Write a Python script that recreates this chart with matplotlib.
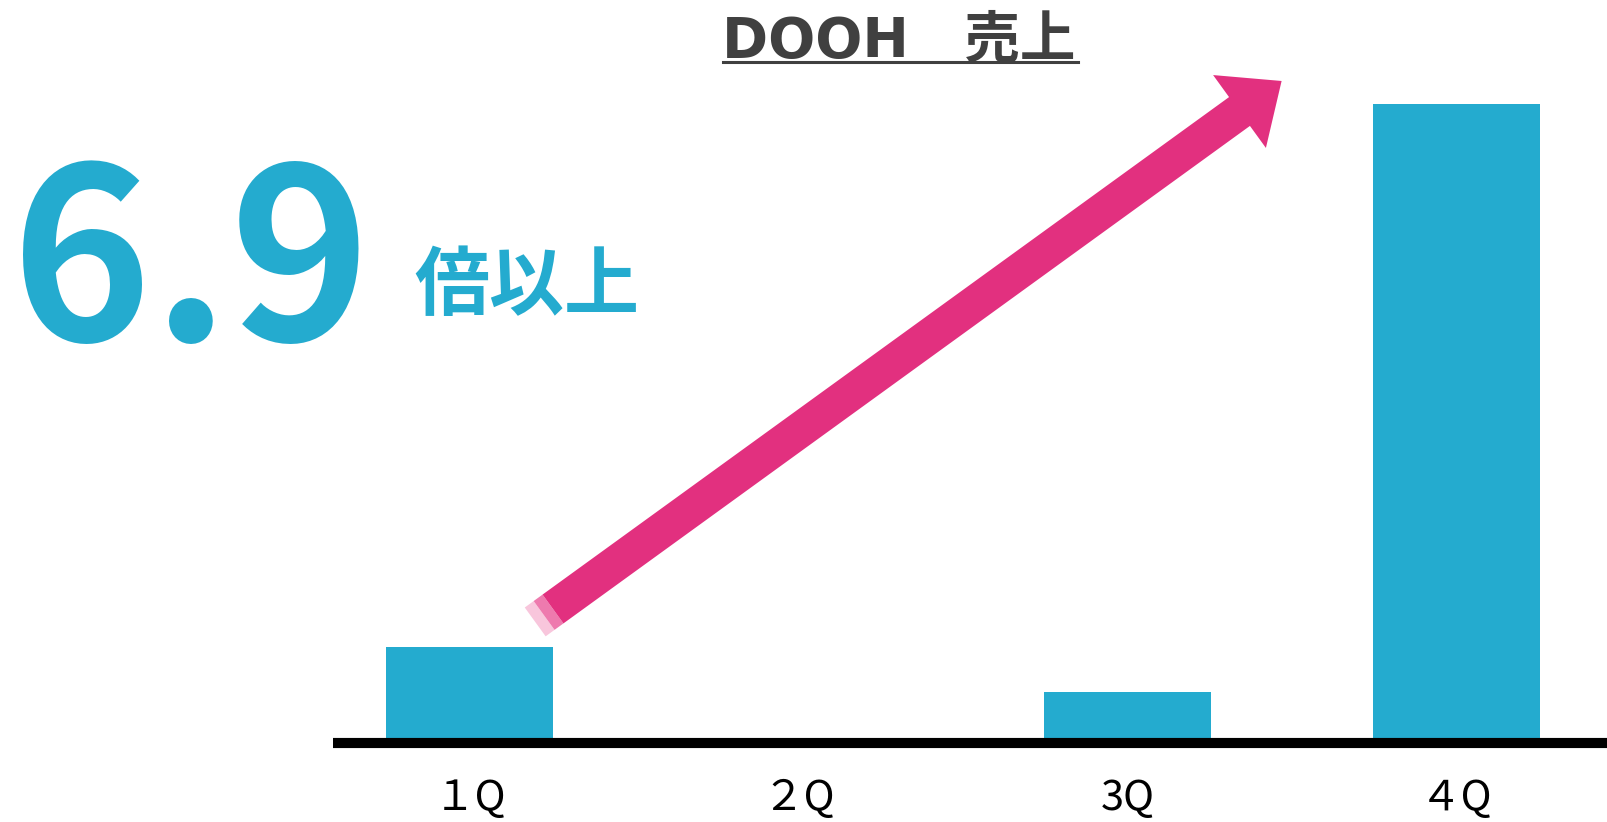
import matplotlib
matplotlib.use("Agg")
import matplotlib.pyplot as plt
from matplotlib.patches import Polygon
from matplotlib.lines import Line2D
import numpy as np

plt.rcParams['font.family'] = ['Noto Sans CJK JP', 'DejaVu Sans']

# data
quarters = ["１Q", "２Q", "3Q", "４Q"]
sales = [100, 0, 50, 694]
title = "DOOH\u3000売上"
ratio_text = "6.9"
ratio_suffix = "倍以上"

BLUE = "#24abcf"
PINK = "#e2307f"
GRAY = "#404040"

W, H = 1608, 822
fig = plt.figure(figsize=(W / 100, H / 100), dpi=100)


def fx(x):
    return x / W


def fy(y):
    return 1 - y / H


# axes: left edge at the baseline start, y=0 at the top of the baseline
ax = fig.add_axes([fx(333), fy(738), fx(W) - fx(333), fy(104) - fy(738)])
x = np.arange(len(quarters))
ax.bar(x, sales, width=0.508, color=BLUE)
ax.set_xlim(-0.4164, 3.462)
ax.set_ylim(0, 694)
ax.set_yticks([])
ax.set_xticks(x)
ax.set_xticklabels(quarters, fontsize=30, color="black")
ax.tick_params(axis="x", length=0, pad=29)
for s in ax.spines.values():
    s.set_visible(False)

# thick black baseline
fig.add_artist(Line2D([fx(333), 1.0], [fy(743), fy(743)], color="black", linewidth=7.3,
                      solid_capstyle="butt"))

# title with underline
fig.text(fx(899), fy(56), title, ha="center", va="baseline", fontsize=40,
         fontweight="bold", color=GRAY, family=['DejaVu Sans', 'Noto Sans CJK JP'])
fig.add_artist(Line2D([fx(723), fx(1078)], [fy(62.5), fy(62.5)], color=GRAY, linewidth=2.2))

# big ratio
fig.text(fx(11), fy(341), ratio_text, ha="left", va="baseline", fontsize=172,
         fontweight="bold", color=BLUE)
fig.text(fx(414), fy(309), ratio_suffix, ha="left", va="baseline", fontsize=54,
         fontweight="bold", color=BLUE)

# growth arrow (pixel geometry)
u = np.array([0.81, -0.587])
u = u / np.linalg.norm(u)
n = np.array([-u[1], u[0]])
t0 = np.array([553.0, 609.0])
base = np.array([1239.5, 111.5])
tip = base + 52 * u
hw, hh = 17.8, 45.0


def poly(points, color):
    pts = [(fx(p[0]), fy(p[1])) for p in points]
    fig.add_artist(Polygon(pts, closed=True, facecolor=color, edgecolor="none"))


poly([t0 - 22 * u + hw * n, t0 - 11 * u + hw * n, t0 - 11 * u - hw * n, t0 - 22 * u - hw * n], "#f8c6dc")
poly([t0 - 11 * u + hw * n, t0 + hw * n, t0 - hw * n, t0 - 11 * u - hw * n], "#ee7aae")
poly([t0 + hw * n, base + hw * n, base + hh * n, tip, base - hh * n, base - hw * n, t0 - hw * n], PINK)

fig.savefig("out.png", dpi=100, facecolor="white")
